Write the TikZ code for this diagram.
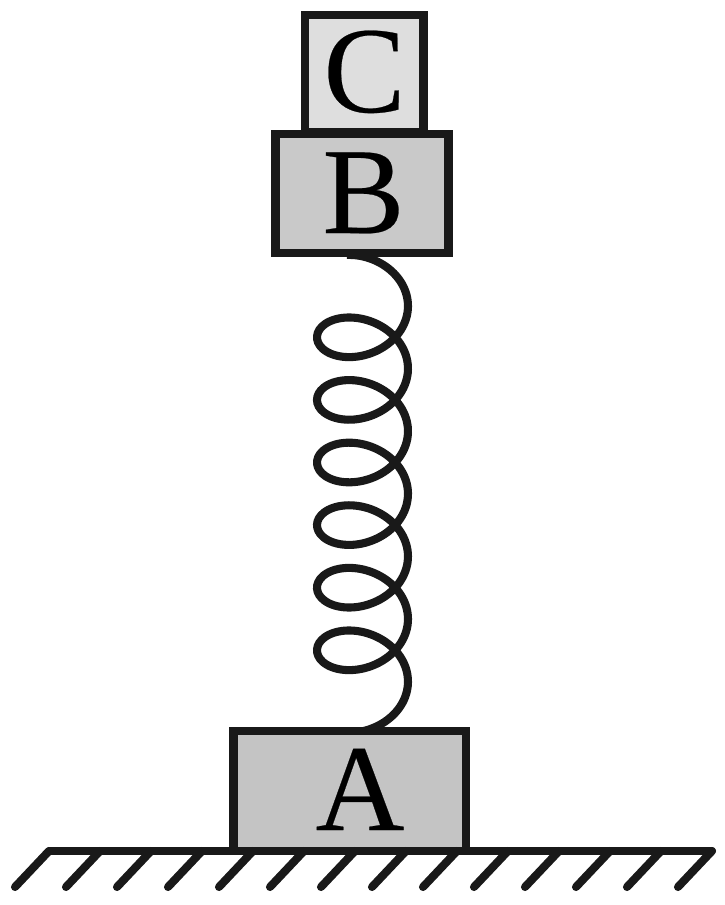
\documentclass[tikz,border=0pt]{standalone}
\usepackage{fontspec}
\setmainfont[FakeBold=0.2]{Liberation Serif}
\definecolor{edgegray}{gray}{0.1}
\tikzset{
    block/.style={draw=edgegray, line width=2.3pt},
    letter/.style={anchor=base, font=\fontsize{35}{35}\selectfont, inner sep=0pt},
    groundline/.style={edgegray, line width=2.3pt, line cap=round}
}
\begin{document}
\begin{tikzpicture}
        \useasboundingbox (0,0) rectangle (7.25,9.05);
        % spring
        \draw[edgegray, line width=2.3pt] plot[domain=-110:2260, samples=300, smooth] ({3.625+0.455*cos(\x)}, {5.99-0.626*\x/360-0.34*sin(\x)});
        % blocks
        \draw[block, fill=black!13] (3.05,7.73) rectangle (4.235,8.9);
        \draw[block, fill=black!21] (2.755,6.52) rectangle (4.485,7.71);
        \draw[block, fill=black!23] (2.335,0.54) rectangle (4.66,1.74);
        \node[letter] (labelC) at (3.645,7.93) {C};
        \node[letter] (labelB) at (3.635,6.72) {B};
        \node[letter] (labelA) at (3.6,0.75) {A};
        % ground
        \draw[groundline] (0.49,0.54) -- (7.12,0.54);
        \foreach \i in {0,...,13} {
            \draw[groundline] ({0.49+0.51*\i},0.54) -- ({0.15+0.51*\i},0.18);
        }
\end{tikzpicture}
\end{document}
